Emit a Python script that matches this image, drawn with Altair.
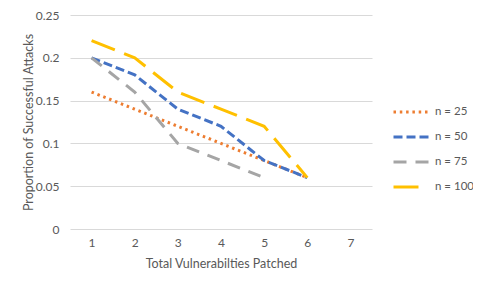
import altair as alt
import pandas as pd

patched = [1, 2, 3, 4, 5, 6]
n25 = [0.16, 0.14, 0.12, 0.10, 0.08, 0.06]
n50 = [0.20, 0.18, 0.14, 0.12, 0.08, 0.06]
n75 = [0.20, 0.16, 0.10, 0.08, 0.06]
n100 = [0.22, 0.20, 0.16, 0.14, 0.12, 0.06]
x_categories = [1, 2, 3, 4, 5, 6, 7]
series_names = ["n = 25", "n = 50", "n = 75", "n = 100"]
colors = ["#ED7D31", "#4472C4", "#A5A5A5", "#FFC000"]
dashes = [[2.5, 3.8], [9, 4], [13, 9], [25, 10]]

rows = []
for name, vals in zip(series_names, [n25, n50, n75, n100]):
    for x, v in zip(patched, vals):
        rows.append({"x": x, "y": v, "series": name})
df = pd.DataFrame(rows)

FONT = "Lato"
GREY = "#595959"

chart = alt.Chart(df).mark_line(strokeWidth=3).encode(
    x=alt.X("x:O", scale=alt.Scale(domain=x_categories, padding=0.5),
            axis=alt.Axis(title="Total Vulnerabilties Patched", labelAngle=0,
                          ticks=False, domain=False, labelPadding=8, titlePadding=9)),
    y=alt.Y("y:Q", scale=alt.Scale(domain=[0, 0.25], nice=False),
            axis=alt.Axis(title="Proportion of Successful Attacks",
                          values=[0, 0.05, 0.1, 0.15, 0.2, 0.25], format=".2~f",
                          ticks=False, domain=False, labelPadding=11, titlePadding=0,
                          gridColor="#D9D9D9", gridWidth=1)),
    color=alt.Color("series:N", scale=alt.Scale(domain=series_names, range=colors),
                    legend=alt.Legend(title=None, orient="none", legendX=322, legendY=78,
                                      symbolType="stroke", symbolSize=1225,
                                      symbolStrokeWidth=3, rowPadding=-4,
                                      labelOffset=5)),
    strokeDash=alt.StrokeDash("series:N", scale=alt.Scale(domain=series_names, range=dashes)),
    order=alt.Order("x:Q"),
).properties(
    width=302, height=214,
    autosize=alt.AutoSizeParams(type="none"),
    padding={"left": 62, "top": 7, "right": 101, "bottom": 52},
).configure_view(stroke=None).configure_axis(
    labelFont=FONT, titleFont=FONT, labelColor=GREY, titleColor=GREY,
    labelFontSize=12, titleFontSize=12.5, titleFontWeight="normal",
).configure_legend(
    labelFont=FONT, labelColor=GREY, labelFontSize=11.5,
)

chart.save("out.html", embed_options={"renderer": "svg", "actions": False})
